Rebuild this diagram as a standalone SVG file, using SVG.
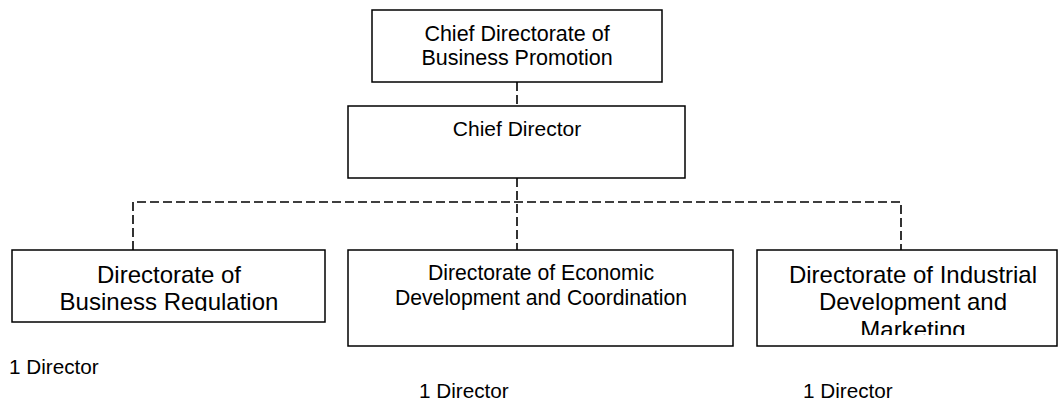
<svg xmlns="http://www.w3.org/2000/svg" width="1060" height="403" viewBox="0 0 1060 403">
<style>
.box{fill:#fff;stroke:#000;stroke-width:1.5}
.t{font-family:"Liberation Sans",Arial,sans-serif;fill:#000;text-anchor:middle}
.l{font-family:"Liberation Sans",Arial,sans-serif;fill:#000;font-size:20.7px}
.c{fill:none;stroke:#000;stroke-width:1.6;stroke-dasharray:9 4}
</style>
<defs>
<clipPath id="clip1"><rect x="12" y="250" width="313" height="61"/></clipPath>
<clipPath id="clip3"><rect x="757" y="250" width="300" height="85"/></clipPath>
</defs>
<rect width="1060" height="403" fill="#fff"/>
<g id="connectors">
<path class="c" d="M517 82V106"/>
<path class="c" d="M517 178V250"/>
<path class="c" d="M133 250V202H901V250"/>
</g>
<g id="n-top">
<rect class="box" x="372" y="10" width="290" height="72"/>
<text class="t" font-size="21.5" x="517" y="40.5">Chief Directorate of</text>
<text class="t" font-size="21.5" x="517" y="65">Business Promotion</text>
</g>
<g id="n-chief">
<rect class="box" x="348" y="106" width="337" height="72"/>
<text class="t" font-size="21" x="517" y="136">Chief Director</text>
</g>
<g id="n-reg">
<rect class="box" x="12" y="250" width="313" height="72"/>
<g clip-path="url(#clip1)">
<text class="t" font-size="24" x="169" y="283">Directorate of</text>
<text class="t" font-size="24" x="169" y="309.5">Business Regulation</text>
</g>
<text class="l" x="9" y="374">1 Director</text>
</g>
<g id="n-econ">
<rect class="box" x="348" y="250" width="385" height="96"/>
<text class="t" font-size="21.2" x="541" y="280">Directorate of Economic</text>
<text class="t" font-size="21.2" x="541" y="304.5">Development and Coordination</text>
<text class="l" x="419" y="398">1 Director</text>
</g>
<g id="n-ind">
<rect class="box" x="757" y="250" width="300" height="96"/>
<g clip-path="url(#clip3)">
<text class="t" font-size="24" x="913" y="282.5">Directorate of Industrial</text>
<text class="t" font-size="24" x="913" y="310">Development and</text>
<text class="t" font-size="24" x="913" y="337.5">Marketing</text>
</g>
<text class="l" x="803" y="398">1 Director</text>
</g>
</svg>
